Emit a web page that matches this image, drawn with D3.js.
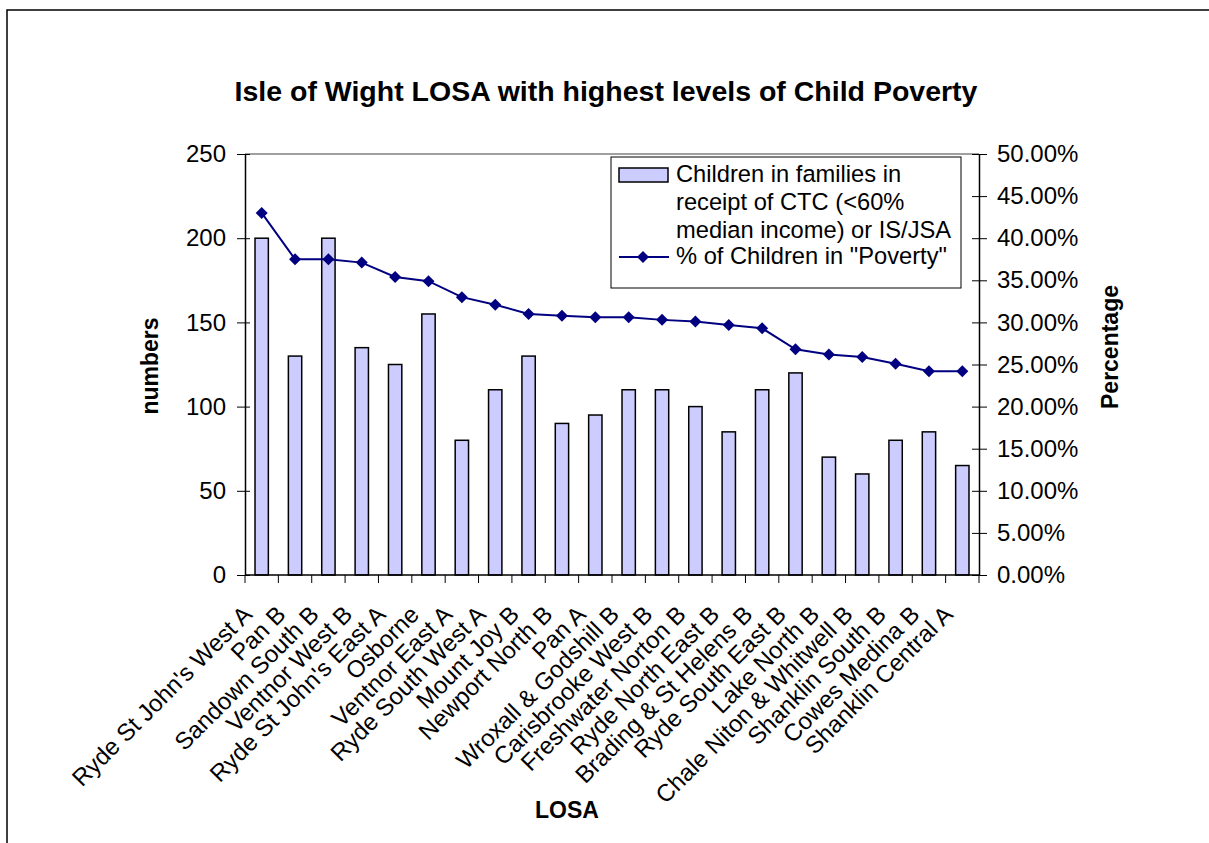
<!doctype html>
<html lang="en">
<head>
<meta charset="utf-8">
<title>Isle of Wight LOSA with highest levels of Child Poverty</title>
<script src="https://cdn.jsdelivr.net/npm/d3@7"></script>
<style>
  body { margin: 0; background: #fff; }
  svg text { font-family: "Liberation Sans", Arial, sans-serif; fill: #000; }
</style>
</head>
<body>
<script>
    // LOSA areas, in the order shown
    var areas = ["Ryde St John's West A", "Pan B", "Sandown South B", "Ventnor West B",
        "Ryde St John's East A", "Osborne", "Ventnor East A", "Ryde South West A",
        "Mount Joy B", "Newport North B", "Pan A", "Wroxall & Godshill B",
        "Carisbrooke West B", "Freshwater Norton B", "Ryde North East B",
        "Brading & St Helens B", "Ryde South East B", "Lake North B",
        "Chale Niton & Whitwell B", "Shanklin South B", "Cowes Medina B", "Shanklin Central A"];
    // children in families in receipt of CTC or IS/JSA
    var children = [200, 130, 200, 135, 125, 155, 80, 110, 130, 90, 95,
                    110, 110, 100, 85, 110, 120, 70, 60, 80, 85, 65];
    // % of children in "poverty"
    var poverty = [0.430, 0.375, 0.375, 0.371, 0.354, 0.349, 0.330, 0.321, 0.310, 0.308, 0.306,
                   0.306, 0.303, 0.301, 0.297, 0.293, 0.268, 0.262, 0.259, 0.251, 0.242, 0.242];
    var leftTicks = [0, 50, 100, 150, 200, 250];
    var rightTicks = [0, 0.05, 0.10, 0.15, 0.20, 0.25, 0.30, 0.35, 0.40, 0.45, 0.50];

    var svg = d3.select("body").append("svg")
        .attr("width", 1209).attr("height", 843);

    // outer chart border
    svg.append("rect").attr("x", 7).attr("y", 10).attr("width", 1300).attr("height", 900)
        .attr("fill", "none").attr("stroke", "#000").attr("stroke-width", 1.5);

    var plotL = 245, plotR = 979, plotT = 154, plotB = 575;

    var x = d3.scaleBand().domain(areas).range([plotL, plotR]).padding(0);
    var y = d3.scaleLinear().domain([0, 250]).range([plotB, plotT]);
    var y2 = d3.scaleLinear().domain([0, 0.5]).range([plotB, plotT]);

    svg.append("text").attr("x", 606).attr("y", 101)
        .attr("text-anchor", "middle").attr("font-size", 28.5).attr("font-weight", "bold")
        .text("Isle of Wight LOSA with highest levels of Child Poverty");

    // plot area top edge
    svg.append("line").attr("x1", plotL).attr("x2", plotR).attr("y1", plotT).attr("y2", plotT)
        .attr("stroke", "#808080").attr("stroke-width", 1.5);

    // bars
    var bw = x.bandwidth() * 0.4;
    svg.append("g").selectAll("rect").data(children).enter().append("rect")
        .attr("x", function(d, i){ return x(areas[i]) + x.bandwidth()/2 - bw/2; })
        .attr("y", function(d){ return y(d); })
        .attr("width", bw)
        .attr("height", function(d){ return y(0) - y(d); })
        .attr("fill", "#ccccff").attr("stroke", "#000").attr("stroke-width", 1.5);

    // left axis
    var yAxis = svg.append("g").attr("transform", "translate(" + plotL + ",0)")
        .call(d3.axisLeft(y).tickValues(leftTicks).tickSize(0).tickPadding(19));
    yAxis.select(".domain").attr("stroke", "#000").attr("stroke-width", 1.5);
    yAxis.selectAll(".tick text").attr("font-size", 24).attr("font-family", null);
    yAxis.selectAll(".tick").append("line").attr("x1", -8).attr("x2", 5).attr("stroke", "#000");

    // right axis
    var y2Axis = svg.append("g").attr("transform", "translate(" + plotR + ",0)")
        .call(d3.axisRight(y2).tickValues(rightTicks).tickSize(0).tickPadding(18)
            .tickFormat(d3.format(".2%")));
    y2Axis.select(".domain").attr("stroke", "#000").attr("stroke-width", 1.5);
    y2Axis.selectAll(".tick text").attr("font-size", 24).attr("font-family", null);
    y2Axis.selectAll(".tick").append("line").attr("x1", -7).attr("x2", 8).attr("stroke", "#000");

    // x axis
    var xAxis = svg.append("g").attr("transform", "translate(0," + plotB + ")");
    xAxis.append("line").attr("x1", plotL).attr("x2", plotR).attr("stroke", "#000").attr("stroke-width", 1.5);
    xAxis.selectAll("line.tk").data(areas.concat([null])).enter().append("line").attr("class", "tk")
        .attr("x1", function(d, i){ return plotL + i * x.step(); })
        .attr("x2", function(d, i){ return plotL + i * x.step(); })
        .attr("y1", 0).attr("y2", 8).attr("stroke", "#000");
    svg.append("g").selectAll("text").data(areas).enter().append("text")
        .attr("text-anchor", "end").attr("font-size", 24)
        .attr("transform", function(d){
            return "translate(" + (x(d) + x.bandwidth()/2 - 8) + ",616) rotate(-45)";
        })
        .text(function(d){ return d; });

    // poverty line
    var line = d3.line()
        .x(function(d, i){ return x(areas[i]) + x.bandwidth()/2; })
        .y(function(d){ return y2(d); });
    svg.append("path").datum(poverty).attr("d", line)
        .attr("fill", "none").attr("stroke", "#000080").attr("stroke-width", 2);
    var diamond = d3.symbol().type(d3.symbolSquare).size(72);
    svg.append("g").selectAll("path").data(poverty).enter().append("path")
        .attr("d", diamond)
        .attr("transform", function(d, i){
            return "translate(" + (x(areas[i]) + x.bandwidth()/2) + "," + y2(d) + ") rotate(45)";
        })
        .attr("fill", "#000080");

    // axis titles
    svg.append("text").attr("transform", "translate(158,366) rotate(-90)")
        .attr("text-anchor", "middle").attr("font-size", 23).attr("font-weight", "bold").text("numbers");
    svg.append("text").attr("transform", "translate(1118,347) rotate(-90)")
        .attr("text-anchor", "middle").attr("font-size", 23).attr("font-weight", "bold").text("Percentage");
    svg.append("text").attr("x", 567).attr("y", 818)
        .attr("text-anchor", "middle").attr("font-size", 23).attr("font-weight", "bold").text("LOSA");

    // legend
    var lg = svg.append("g");
    lg.append("rect").attr("x", 611).attr("y", 157).attr("width", 350).attr("height", 131)
        .attr("fill", "#fff").attr("stroke", "#000").attr("stroke-width", 1);
    lg.append("rect").attr("x", 619).attr("y", 168).attr("width", 49).attr("height", 14)
        .attr("fill", "#ccccff").attr("stroke", "#000").attr("stroke-width", 1.5);
    var legendLines = ["Children in families in", "receipt of CTC (<60%", "median income) or IS/JSA"];
    legendLines.forEach(function(t, i){
        lg.append("text").attr("x", 676).attr("y", 182 + i * 28).attr("font-size", 23.7).text(t);
    });
    lg.append("line").attr("x1", 619).attr("x2", 669).attr("y1", 257).attr("y2", 257)
        .attr("stroke", "#000080").attr("stroke-width", 2);
    lg.append("path").attr("d", diamond).attr("transform", "translate(643,257) rotate(45)")
        .attr("fill", "#000080");
    lg.append("text").attr("x", 676).attr("y", 264).attr("font-size", 23.7)
        .text("% of Children in \"Poverty\"");
</script>
</body>
</html>
